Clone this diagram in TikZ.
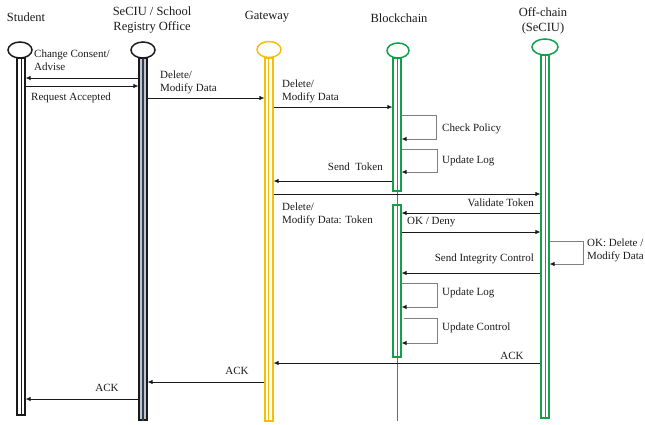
\documentclass[tikz,border=0pt]{standalone}
\usepackage{fontspec}
\setmainfont{Liberation Serif}
\usetikzlibrary{arrows.meta,shapes.geometric,positioning,calc}
\definecolor{ink}{HTML}{1A1A1A}
\definecolor{loopgray}{HTML}{808080}
\definecolor{gold}{HTML}{F5BE0B}
\definecolor{leaf}{HTML}{12A04B}
\definecolor{slate}{HTML}{2F3E55}
\tikzset{
  head/.style={ellipse, draw=#1, line width=1.5pt, fill=white, minimum width=24pt, minimum height=16pt, inner sep=0pt},
  bar/.style={rectangle, draw=#1, line width=1.2pt, fill=white, minimum width=8pt, inner sep=0pt},
  title/.style={font=\fontsize{12.5}{14.5}\selectfont, text=ink, align=center},
  lab/.style={font=\fontsize{11}{13}\selectfont, text=ink, align=left, inner sep=1pt},
  msg/.style={-{Latex[length=5pt,width=4.5pt]}, line width=0.75pt, draw=ink},
  selfmsg/.style={-{Latex[length=5pt,width=4.5pt,color=ink]}, line width=0.75pt, draw=loopgray},
}
\begin{document}
\begin{tikzpicture}[x=1pt, y=-1pt]
  \useasboundingbox (0,0) rectangle (645,424);
  % titles
  \node[title] (stuT) at (26,17) {Student};
  \node[title] (secT) at (152,20) {SeCIU / School\\Registry Office};
  \node[title] (gwT) at (267,17) {Gateway};
  \node[title] (bcT) at (399,18) {Blockchain};
  \node[title] (ocT) at (543,21) {Off-chain\\(SeCIU)};
  % lifelines
  \node[bar=ink, minimum height=357pt] (stuBar) at (21,236.5) {};
  \draw[ink, line width=1pt] (stuBar.north) -- (stuBar.south);
  \node[bar=ink, fill=slate!30, minimum height=362pt] (secBar) at (143,239) {};
  \draw[slate, line width=1.6pt] (secBar.north) -- (secBar.south);
  \node[bar=gold, minimum height=363pt] (gwBar) at (269,239.5) {};
  \draw[gold, line width=1pt] ([xshift=-0.5pt]gwBar.north) -- ([xshift=-0.5pt]gwBar.south);
  \coordinate (bcEnd) at (397,421);
  \draw[leaf, line width=1pt] (397,58) -- (bcEnd);
  \node[bar=leaf, minimum height=133pt] (bcA) at (397,124.5) {};
  \draw[leaf, line width=1pt] (bcA.north) -- (bcA.south);
  \node[bar=leaf, minimum height=152pt] (bcB) at (397,281) {};
  \draw[leaf, line width=1pt] (bcB.north) -- (bcB.south);
  \node[bar=leaf, minimum height=363pt] (ocBar) at (545,236.5) {};
  \draw[leaf, line width=1pt] (ocBar.north) -- (ocBar.south);
  % heads
  \node[head=ink] (stuH) at (20,50) {};
  \node[head=ink] (secH) at (143,50) {};
  \node[head=gold] (gwH) at (269,49.5) {};
  \node[head=leaf, minimum width=22pt, minimum height=15pt] (bcH) at (398,50.5) {};
  \node[head=leaf, minimum width=26pt] (ocH) at (545,47) {};
  % messages
  \draw[msg] (secBar.west |- 0,78) -- (stuBar.east |- 0,78);
  \node[lab, anchor=west] (m1) at (33,60.5) {Change Consent/\\Advise};
  \draw[msg] (stuBar.east |- 0,86) -- (secBar.west |- 0,86);
  \node[lab, anchor=west] (m2) at (30,98) {Request Accepted};
  \draw[msg] (secBar.east |- 0,98) -- (gwBar.west |- 0,98);
  \node[lab, anchor=west] (m3) at (159,82.5) {Delete/\\Modify Data};
  \draw[msg] (gwBar.east |- 0,107) -- (bcA.west |- 0,107);
  \node[lab, anchor=west] (m4) at (281,91.5) {Delete/\\Modify Data};
  \draw[selfmsg] (bcA.east |- 0,115) -- ++(35,0) |- (bcA.east |- 0,139);
  \node[lab, anchor=west] (m5) at (441,129) {Check Policy};
  \draw[selfmsg] (bcA.east |- 0,149) -- ++(36,0) |- (bcA.east |- 0,172);
  \node[lab, anchor=west] (m6) at (441,161) {Update Log};
  \draw[msg] (bcA.west |- 0,181) -- (gwBar.east |- 0,181);
  \node[lab, anchor=east] (m7) at (384,167) {Send~ Token};
  \draw[msg] (gwBar.east |- 0,194) -- (ocBar.west |- 0,194);
  \node[lab, anchor=west] (m8) at (281,214.5) {Delete/\\Modify Data: Token};
  \draw[msg] (ocBar.west |- 0,213) -- (bcB.east |- 0,213);
  \node[lab, anchor=east] (m9) at (535,203) {Validate Token};
  \draw[msg] (bcB.east |- 0,232) -- (ocBar.west |- 0,232);
  \node[lab, anchor=west] (m10) at (406,222) {OK / Deny};
  \draw[selfmsg] (ocBar.east |- 0,241) -- ++(34,0) |- (ocBar.east |- 0,264);
  \node[lab, anchor=west] (m11) at (586,250.5) {OK: Delete /\\Modify Data};
  \draw[msg] (ocBar.west |- 0,273) -- (bcB.east |- 0,273);
  \node[lab, anchor=east] (m12) at (535,259) {Send Integrity Control};
  \draw[selfmsg] (bcB.east |- 0,283) -- ++(36,0) |- (bcB.east |- 0,307);
  \node[lab, anchor=west] (m13) at (441,293) {Update Log};
  \draw[selfmsg] ([xshift=2pt]bcB.east |- 0,318) -- ++(34,0) |- (bcB.east |- 0,343);
  \node[lab, anchor=west] (m14) at (441,328) {Update Control};
  \draw[msg] (ocBar.west |- 0,363) -- (gwBar.east |- 0,363);
  \node[lab] (m15) at (512,356) {ACK};
  \draw[msg] (gwBar.west |- 0,382) -- (secBar.east |- 0,382);
  \node[lab] (m16) at (237,371) {ACK};
  \draw[msg] (secBar.west |- 0,399) -- (stuBar.east |- 0,399);
  \node[lab] (m17) at (107,388) {ACK};
\end{tikzpicture}
\end{document}
